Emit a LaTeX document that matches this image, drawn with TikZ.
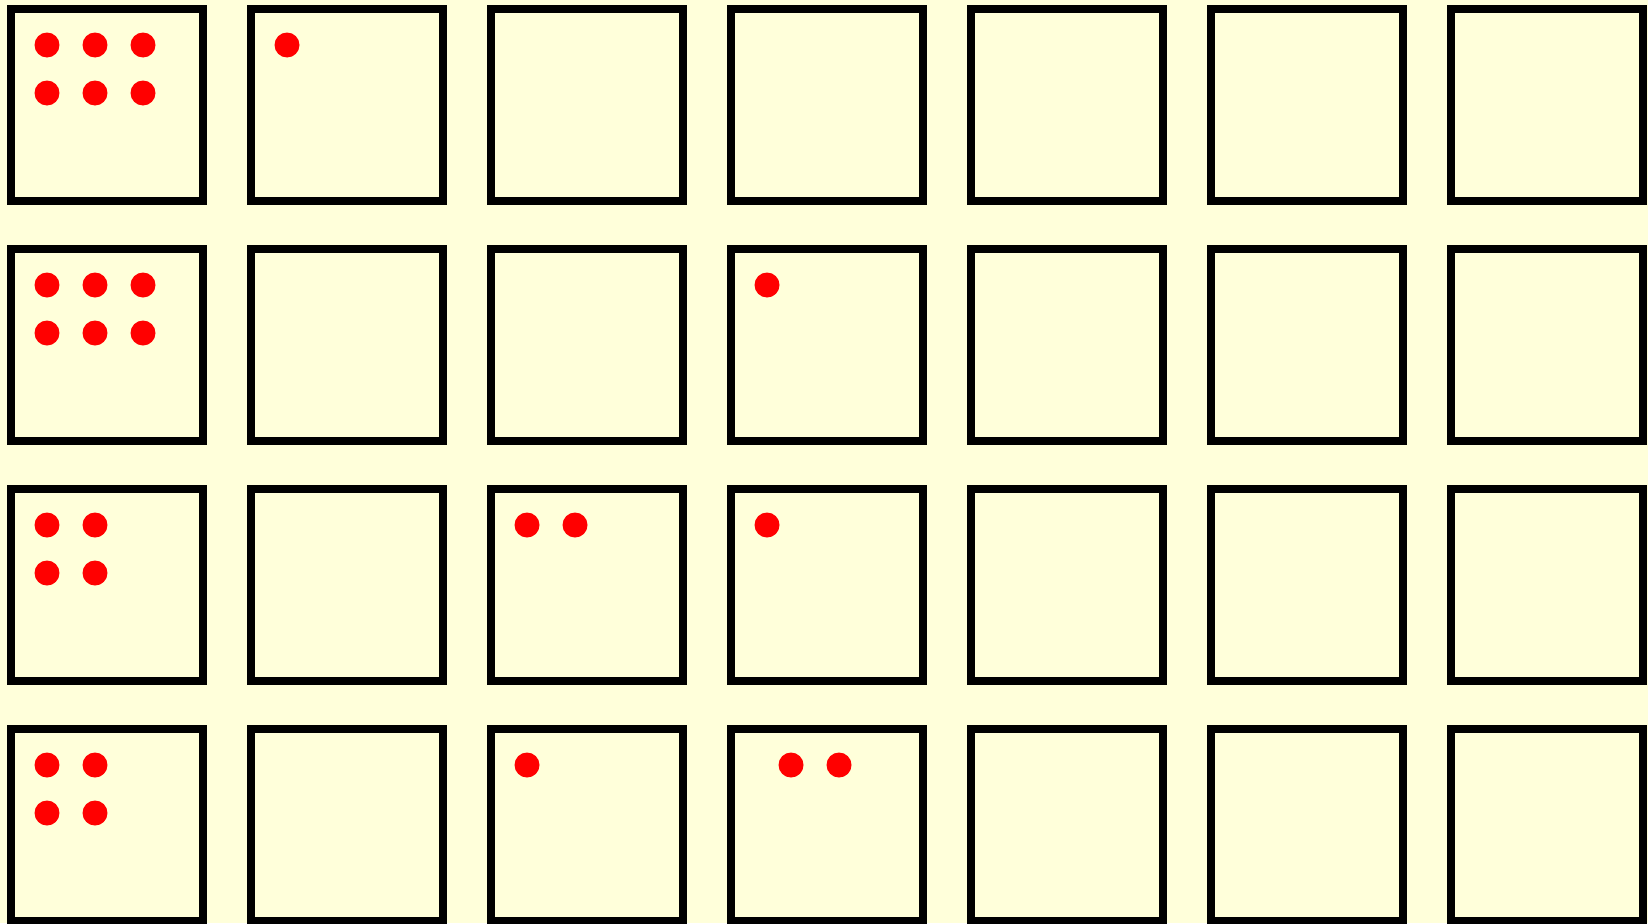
\documentclass[tikz,border=0pt]{standalone}
\usepackage{tikz}
\usetikzlibrary{positioning,calc}
\definecolor{PaperYellow}{RGB}{255,255,218}
\definecolor{DotRed}{RGB}{255,0,0}
\tikzset{
  cell/.style={rectangle,draw=black,fill=PaperYellow,line width=4.55pt,inner sep=0pt,minimum size=3.84cm},
  dot/.style={circle,fill=DotRed,inner sep=0pt,minimum size=0.5cm},
}

\begin{document}
\begin{tikzpicture}[x=0.02cm,y=-0.02cm]
\fill[PaperYellow] (0,0) rectangle (1648,923);
\useasboundingbox (0,0) rectangle (1648,923);
\begin{scope}
\clip (0,0) rectangle (1648,923);
\foreach \r in {1,...,4}{
  \foreach \c in {1,...,7}{
    \node[cell] (b\r\c) at ({107+240*(\c-1)},{105+240*(\r-1)}) {};
  }
}
% row 1
\node[dot] (d1a) at ($(b11)+(-60,-60)$) {};
\node[dot] (d1b) at ($(b11)+(-12,-60)$) {};
\node[dot] (d1c) at ($(b11)+(36,-60)$) {};
\node[dot] (d1d) at ($(b11)+(-60,-12)$) {};
\node[dot] (d1e) at ($(b11)+(-12,-12)$) {};
\node[dot] (d1f) at ($(b11)+(36,-12)$) {};
\node[dot] (d1g) at ($(b12)+(-60,-60)$) {};
% row 2
\node[dot] (d2a) at ($(b21)+(-60,-60)$) {};
\node[dot] (d2b) at ($(b21)+(-12,-60)$) {};
\node[dot] (d2c) at ($(b21)+(36,-60)$) {};
\node[dot] (d2d) at ($(b21)+(-60,-12)$) {};
\node[dot] (d2e) at ($(b21)+(-12,-12)$) {};
\node[dot] (d2f) at ($(b21)+(36,-12)$) {};
\node[dot] (d2g) at ($(b24)+(-60,-60)$) {};
% row 3
\node[dot] (d3a) at ($(b31)+(-60,-60)$) {};
\node[dot] (d3b) at ($(b31)+(-12,-60)$) {};
\node[dot] (d3c) at ($(b31)+(-60,-12)$) {};
\node[dot] (d3d) at ($(b31)+(-12,-12)$) {};
\node[dot] (d3e) at ($(b33)+(-60,-60)$) {};
\node[dot] (d3f) at ($(b33)+(-12,-60)$) {};
\node[dot] (d3g) at ($(b34)+(-60,-60)$) {};
% row 4
\node[dot] (d4a) at ($(b41)+(-60,-60)$) {};
\node[dot] (d4b) at ($(b41)+(-12,-60)$) {};
\node[dot] (d4c) at ($(b41)+(-60,-12)$) {};
\node[dot] (d4d) at ($(b41)+(-12,-12)$) {};
\node[dot] (d4e) at ($(b43)+(-60,-60)$) {};
\node[dot] (d4f) at ($(b44)+(-36,-60)$) {};
\node[dot] (d4g) at ($(b44)+(12,-60)$) {};
\end{scope}
\end{tikzpicture}
\end{document}
